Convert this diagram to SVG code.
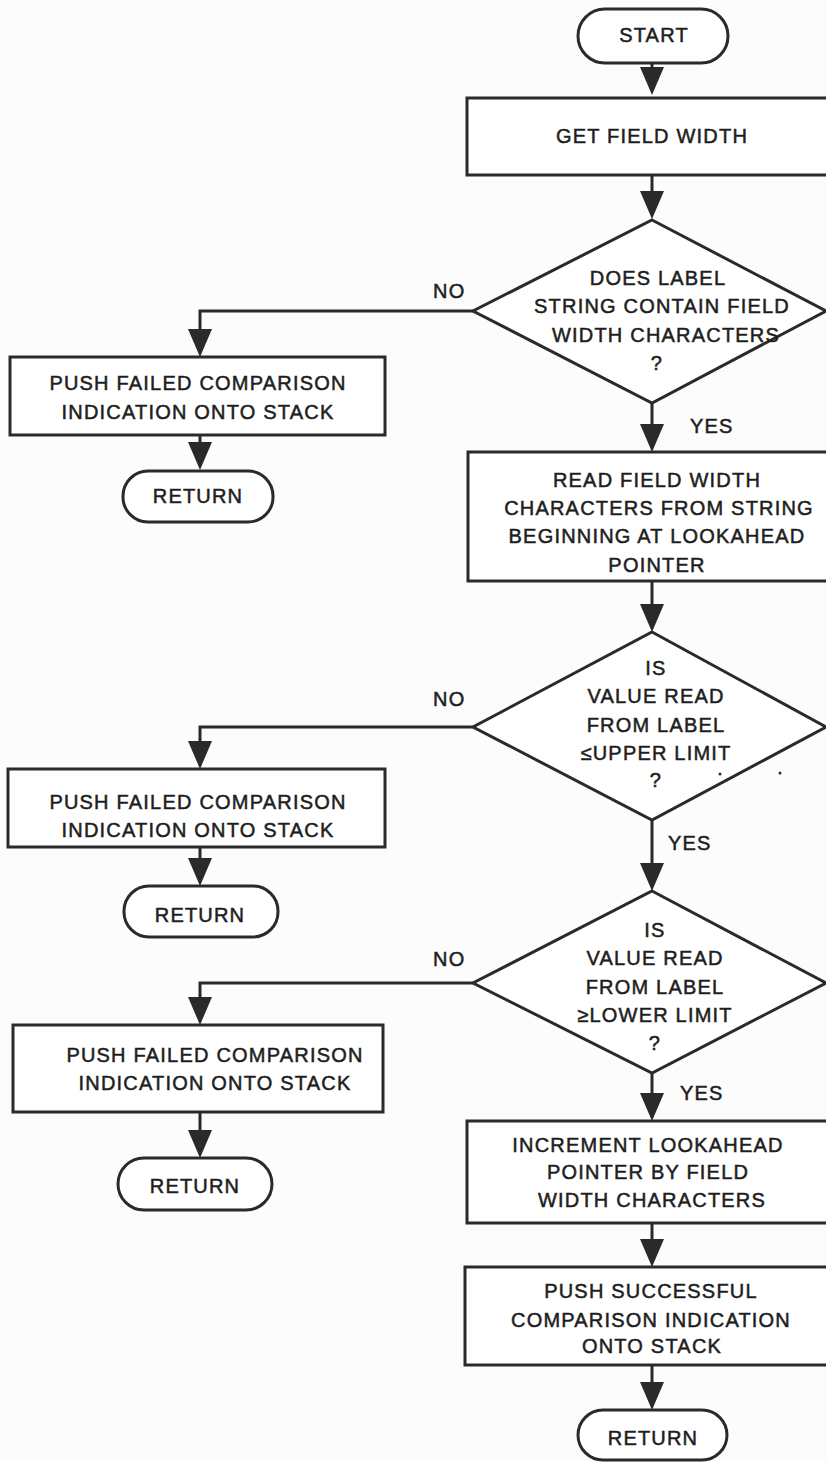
<svg xmlns="http://www.w3.org/2000/svg" width="826" height="1462" viewBox="0 0 826 1462">
  <defs>
    <marker id="arrow" markerUnits="userSpaceOnUse" markerWidth="28" markerHeight="24" refX="24" refY="12" orient="auto">
      <path d="M0,0 L28,12 L0,24 Z" fill="#2a2a2a"/>
    </marker>
    <style>
      .shape { fill: #ffffff; stroke: #2a2a2a; stroke-width: 3; }
      .conn { fill: none; stroke: #2a2a2a; stroke-width: 3; marker-end: url(#arrow); }
      text { font-family: "Liberation Sans", Arial, sans-serif; font-size: 20px; letter-spacing: 1.2px; fill: #1e1e1e; stroke: #1e1e1e; stroke-width: 0.5px; text-anchor: middle; }
      .lbl { text-anchor: start; }
      .speck { fill: #2a2a2a; }
    </style>
  </defs>

  <rect x="0" y="0" width="826" height="1462" fill="#fcfcfc"/>

  <!-- connectors -->
  <g id="connectors">
    <path class="conn" d="M652,63 V91"/>
    <path class="conn" d="M652,175 V215"/>
    <path class="conn" d="M473,311 H200 V353"/>
    <path class="conn" d="M200,435 V466"/>
    <path class="conn" d="M652,403 V448"/>
    <path class="conn" d="M652,581 V628"/>
    <path class="conn" d="M473,727 H200 V765"/>
    <path class="conn" d="M200,847 V882"/>
    <path class="conn" d="M652,820 V887"/>
    <path class="conn" d="M473,983 H200 V1021"/>
    <path class="conn" d="M200,1112 V1154"/>
    <path class="conn" d="M652,1073 V1117"/>
    <path class="conn" d="M652,1223 V1263"/>
    <path class="conn" d="M652,1365 V1406"/>
    <text class="lbl" x="433" y="298">NO</text>
    <text class="lbl" x="690" y="433">YES</text>
    <text class="lbl" x="433" y="706">NO</text>
    <text class="lbl" x="668" y="850">YES</text>
    <text class="lbl" x="433" y="966">NO</text>
    <text class="lbl" x="680" y="1100">YES</text>
  </g>

  <g id="start">
    <rect class="shape" x="578" y="9" width="150" height="54" rx="27"/>
    <text x="654" y="42">START</text>
  </g>

  <g id="get-field-width">
    <rect class="shape" x="467" y="98" width="372" height="77"/>
    <text x="652" y="143">GET FIELD WIDTH</text>
  </g>

  <g id="check-length">
    <polygon class="shape" points="652,220 826,311 652,403 473,311"/>
    <text x="658" y="285">DOES LABEL</text>
    <text x="662" y="313">STRING CONTAIN FIELD</text>
    <text x="666" y="342">WIDTH CHARACTERS</text>
    <text x="657" y="370">?</text>
  </g>

  <g id="fail-1">
    <rect class="shape" x="10" y="357" width="375" height="78"/>
    <text x="198" y="390">PUSH FAILED COMPARISON</text>
    <text x="198" y="419">INDICATION ONTO STACK</text>
  </g>

  <g id="return-1">
    <rect class="shape" x="123" y="471" width="150" height="51" rx="25"/>
    <text x="198" y="503">RETURN</text>
  </g>

  <g id="read-field">
    <rect class="shape" x="468" y="452" width="371" height="129"/>
    <text x="657" y="487">READ FIELD WIDTH</text>
    <text x="659" y="515">CHARACTERS FROM STRING</text>
    <text x="657" y="543">BEGINNING AT LOOKAHEAD</text>
    <text x="657" y="572">POINTER</text>
  </g>

  <g id="check-upper">
    <polygon class="shape" points="652,632 826,727 652,820 473,727"/>
    <text x="656" y="675">IS</text>
    <text x="656" y="703">VALUE READ</text>
    <text x="656" y="732">FROM LABEL</text>
    <text x="656" y="760">≤UPPER LIMIT</text>
    <text x="656" y="787">?</text>
    <circle class="speck" cx="720" cy="774" r="1.5"/>
    <circle class="speck" cx="780" cy="773" r="1.5"/>
  </g>

  <g id="fail-2">
    <rect class="shape" x="8" y="769" width="377" height="78"/>
    <text x="198" y="809">PUSH FAILED COMPARISON</text>
    <text x="198" y="837">INDICATION ONTO STACK</text>
  </g>

  <g id="return-2">
    <rect class="shape" x="124" y="886" width="154" height="51" rx="25"/>
    <text x="200" y="922">RETURN</text>
  </g>

  <g id="check-lower">
    <polygon class="shape" points="652,891 826,983 652,1073 473,983"/>
    <text x="655" y="937">IS</text>
    <text x="655" y="965">VALUE READ</text>
    <text x="655" y="994">FROM LABEL</text>
    <text x="655" y="1022">≥LOWER LIMIT</text>
    <text x="655" y="1050">?</text>
  </g>

  <g id="fail-3">
    <rect class="shape" x="13" y="1025" width="370" height="87"/>
    <text x="215" y="1062">PUSH FAILED COMPARISON</text>
    <text x="215" y="1090">INDICATION ONTO STACK</text>
  </g>

  <g id="return-3">
    <rect class="shape" x="118" y="1158" width="154" height="52" rx="26"/>
    <text x="195" y="1193">RETURN</text>
  </g>

  <g id="increment">
    <rect class="shape" x="467" y="1121" width="372" height="102"/>
    <text x="648" y="1152">INCREMENT LOOKAHEAD</text>
    <text x="648" y="1179">POINTER BY FIELD</text>
    <text x="652" y="1207">WIDTH CHARACTERS</text>
  </g>

  <g id="success">
    <rect class="shape" x="465" y="1267" width="374" height="98"/>
    <text x="651" y="1298">PUSH SUCCESSFUL</text>
    <text x="651" y="1327">COMPARISON INDICATION</text>
    <text x="652" y="1353">ONTO STACK</text>
  </g>

  <g id="return-4">
    <rect class="shape" x="578" y="1410" width="149" height="50" rx="25"/>
    <text x="653" y="1445">RETURN</text>
  </g>
</svg>
